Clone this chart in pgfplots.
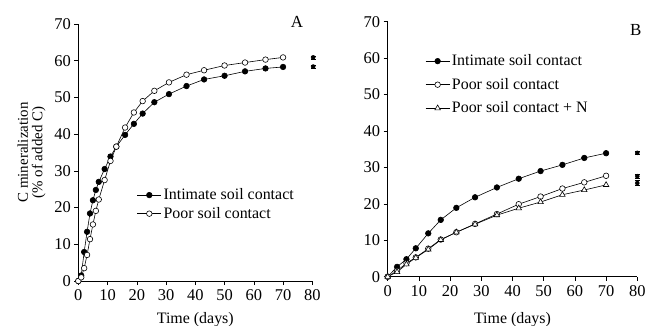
\documentclass[border=0pt]{standalone}
\usepackage{fontspec}
\setmainfont{Liberation Serif}
\usepackage{pgfplots}
\pgfplotsset{compat=1.18}
\begin{document}
\begin{tikzpicture}
\useasboundingbox (0,0) rectangle (645bp,326bp);
\pgfplotsset{
  panel/.style={
    scale only axis,
    anchor=south west,
    axis x line*=bottom, axis y line*=left,
    xmin=0, xmax=80, ymin=0, ymax=70,
    xtick={0,10,...,80}, ytick={0,10,...,70},
    tick align=outside, major tick length=4bp,
    tick style={black, line width=0.5bp},
    axis line style={black, line width=0.6bp},
    clip=false,
    /pgf/number format/assume math mode=true,
    tick label style={font=\fontsize{16.5}{16}\selectfont},
    xticklabel style={yshift=-1bp},
    label style={font=\fontsize{16}{16}\selectfont},
    legend cell align=left,
    legend style={draw=none, fill=none, font=\fontsize{16}{16}\selectfont, row sep=2bp, inner sep=0pt},
    legend image code/.code={\draw[mark repeat=2,mark phase=2] plot coordinates {(0bp,0bp) (12bp,0bp) (24bp,0bp)};},
  },
  filled/.style={black, line width=0.6bp, mark=*, mark size=2.8bp, mark options={fill=black, solid}},
  opencirc/.style={black, line width=0.6bp, mark=*, mark size=2.8bp, mark options={fill=white, solid}},
  opentri/.style={black, line width=0.6bp, mark=triangle*, mark size=3.2bp, mark options={fill=white, solid}},
  ebar/.style={black, line width=0.5bp, only marks, mark=none, forget plot, error bars/.cd, y dir=both, y explicit, error bar style={line width=0.6bp}, error mark options={rotate=90, mark size=2.5bp, line width=0.6bp}},
}
% Panel A
\begin{axis}[panel, at={(78.3bp,45bp)}, width=234bp, height=257bp,
  ylabel={C mineralization\\(\% of added C)},
  ylabel style={align=center, at={(axis description cs:-0.2,0.5)}, anchor=center, font=\fontsize{15}{14.5}\selectfont},
  xlabel={Time (days)},
  xlabel style={at={(axis description cs:0.5,-0.152)}, anchor=center},
  legend style={at={(axis cs:20,25.7)}, anchor=north west},
]
\addplot[filled] coordinates {
(0,0) (1,1.5) (2,7.9) (3,13.4) (4,18.4) (5,22) (6,24.8) (7,27) (9,30.5) (11,33.9) (13,36.6) (16,39.8) (19,42.8) (22,45.6) (26,48.7) (31,50.9) (37,53.1) (43,54.9) (50,55.9) (57,57.1) (64,57.9) (70,58.3)};
\addlegendentry{Intimate soil contact}
\addplot[opencirc] coordinates {
(0,0) (1,1.0) (2,3.5) (3,7.1) (4,11.4) (5,15.4) (6,19.1) (7,22.2) (9,27.5) (11,32.7) (13,36.6) (16,41.8) (19,45.9) (22,49.0) (26,51.8) (31,54.1) (37,56.2) (43,57.4) (50,58.7) (57,59.5) (64,60.3) (70,60.9)};
\addlegendentry{Poor soil contact}
\addplot[ebar] coordinates {(80.3,60.9) +- (0,0.4) (80.3,58.4) +- (0,0.4)};
\node[font=\fontsize{17}{17}\selectfont] at (axis cs:74.8,70.5) {A};
\end{axis}
% Panel B
\begin{axis}[panel, at={(387.7bp,49.3bp)}, width=249.6bp, height=255bp,
  xlabel={Time (days)},
  xlabel style={at={(axis description cs:0.5,-0.168)}, anchor=center},
  legend style={at={(axis cs:12,61.5)}, anchor=north west, row sep=7bp},
]
\addplot[filled] coordinates {
(0,0) (3,2.7) (6,4.8) (9,7.8) (13,11.9) (17,15.6) (22,18.9) (28,21.8) (35,24.5) (42,26.9) (49,29.0) (56,30.7) (63,32.6) (70,33.9)};
\addlegendentry{Intimate soil contact}
\addplot[opencirc] coordinates {
(0,0) (3,1.6) (6,3.7) (9,5.3) (13,7.7) (17,10.2) (22,12.2) (28,14.5) (35,17.2) (42,19.9) (49,22.0) (56,24.2) (63,25.9) (70,27.7)};
\addlegendentry{Poor soil contact}
\addplot[opentri] coordinates {
(0,0) (3,1.3) (6,3.4) (9,5.2) (13,7.5) (17,10.1) (22,12.2) (28,14.4) (35,16.9) (42,18.8) (49,20.5) (56,22.5) (63,23.8) (70,25.2)};
\addlegendentry{Poor soil contact + N}
\addplot[ebar] coordinates {(80,34.0) +- (0,0.4) (80,27.6) +- (0,0.6) (80,25.7) +- (0,0.7)};
\node[font=\fontsize{17}{17}\selectfont] at (axis cs:79.5,67.6) {B};
\end{axis}
\end{tikzpicture}
\end{document}
